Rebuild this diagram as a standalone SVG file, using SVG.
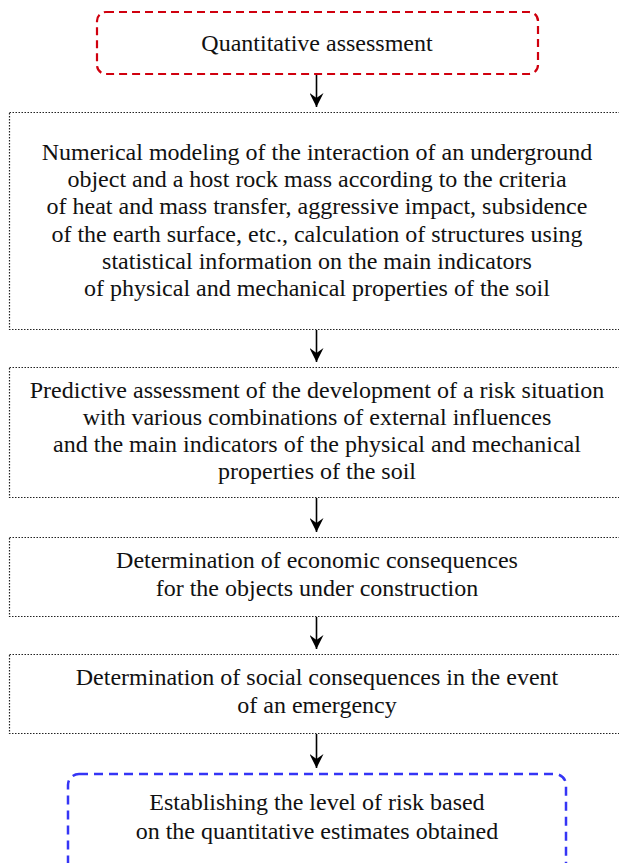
<svg xmlns="http://www.w3.org/2000/svg" width="619" height="863" viewBox="0 0 619 863">
<defs>
<style>
.t{font-family:"Liberation Serif","Times New Roman",serif;font-size:24px;fill:#111;text-anchor:middle}
.dot{fill:none;stroke:#222;stroke-width:1.2;stroke-dasharray:1.5 1.5}
.red{fill:none;stroke:#d0000e;stroke-width:2.2;stroke-dasharray:8 5}
.blue{fill:none;stroke:#3535f5;stroke-width:2.5;stroke-dasharray:9 6}
.c{stroke:#000;stroke-width:1.6;fill:none}
</style>
<marker id="ah" viewBox="0 0 14 14" refX="14" refY="7" markerWidth="14" markerHeight="14" markerUnits="userSpaceOnUse" orient="auto">
<path d="M0,0 L14,7 L0,14 L5,7 Z" fill="#000"/>
</marker>
</defs>
<g id="n1">
<rect class="red" x="97" y="12" width="441" height="62" rx="9"/>
<text class="t" x="317" y="51">Quantitative assessment</text>
</g>
<g id="n2">
<rect class="dot" x="9.5" y="112.5" width="612" height="217"/>
<text class="t" x="317" y="160">Numerical modeling of the interaction of an underground</text>
<text class="t" x="317" y="187">object and a host rock mass according to the criteria</text>
<text class="t" x="317" y="214">of heat and mass transfer, aggressive impact, subsidence</text>
<text class="t" x="317" y="242">of the earth surface, etc., calculation of structures using</text>
<text class="t" x="317" y="269">statistical information on the main indicators</text>
<text class="t" x="317" y="296">of physical and mechanical properties of the soil</text>
</g>
<g id="n3">
<rect class="dot" x="9.5" y="367.5" width="612" height="130"/>
<text class="t" x="317" y="398">Predictive assessment of the development of a risk situation</text>
<text class="t" x="317" y="425">with various combinations of external influences</text>
<text class="t" x="317" y="452">and the main indicators of the physical and mechanical</text>
<text class="t" x="317" y="479">properties of the soil</text>
</g>
<g id="n4">
<rect class="dot" x="9.5" y="537.5" width="612" height="79"/>
<text class="t" x="317" y="568">Determination of economic consequences</text>
<text class="t" x="317" y="596">for the objects under construction</text>
</g>
<g id="n5">
<rect class="dot" x="9.5" y="654.5" width="612" height="79"/>
<text class="t" x="317" y="685">Determination of social consequences in the event</text>
<text class="t" x="317" y="713">of an emergency</text>
</g>
<g id="n6">
<rect class="blue" x="68" y="774" width="498" height="100" rx="11"/>
<text class="t" x="317" y="810">Establishing the level of risk based</text>
<text class="t" x="317" y="839">on the quantitative estimates obtained</text>
</g>
<g id="connectors">
<line class="c" x1="316.5" y1="75" x2="316.5" y2="107" marker-end="url(#ah)"/>
<line class="c" x1="316.5" y1="330" x2="316.5" y2="362" marker-end="url(#ah)"/>
<line class="c" x1="316.5" y1="498" x2="316.5" y2="532" marker-end="url(#ah)"/>
<line class="c" x1="316.5" y1="617" x2="316.5" y2="649" marker-end="url(#ah)"/>
<line class="c" x1="316.5" y1="734" x2="316.5" y2="768" marker-end="url(#ah)"/>
</g>
</svg>
